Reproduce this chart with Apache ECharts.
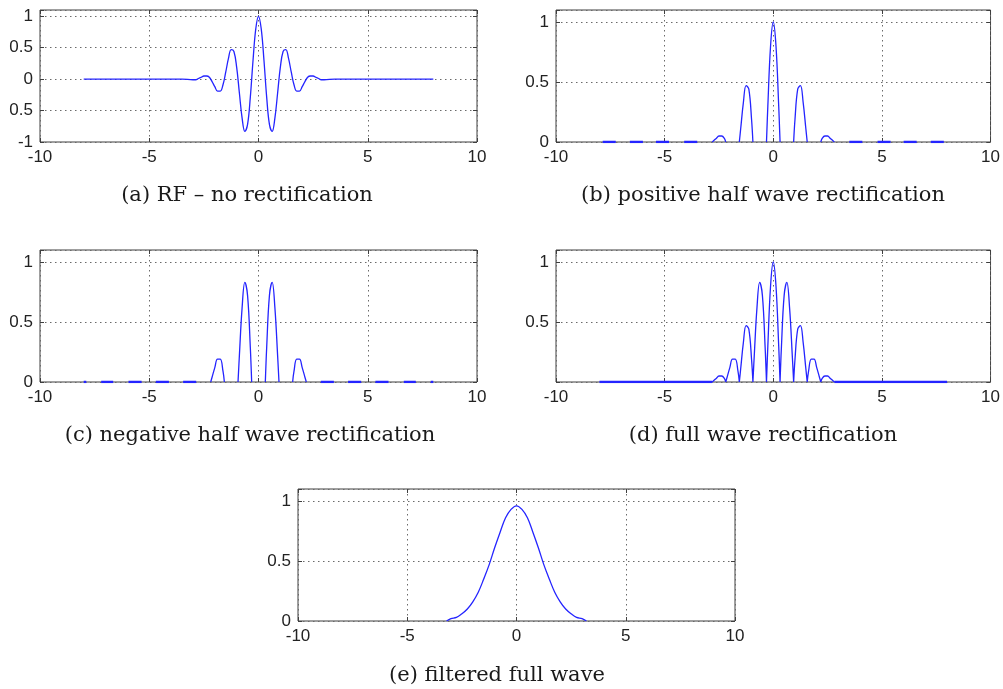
<!DOCTYPE html>
<html>
<head>
<meta charset="utf-8">
<script src="https://cdn.jsdelivr.net/npm/echarts@6/dist/echarts.min.js"></script>
<style>
  html, body { margin: 0; padding: 0; background: #fff; }
  #chart { width: 1003px; height: 689px; }
</style>
</head>
<body>
<div id="chart"></div>
<script>
var GAP = '-'; // breaks a line between separate lobes

// tick values and the labels exactly as they are printed in the figure
var yTicksRF = [-1, -0.5, 0, 0.5, 1];
var yLabelsRF = ['-1', '0.5', '0', '0.5', '1'];
var yTicksPos = [0, 0.5, 1];
var yLabelsPos = ['0', '0.5', '1'];
var yLabelsFull = ['', '0.5', '1'];

var captions = [
  '(a) RF \u2013 no rectification',
  '(b) positive half wave rectification',
  '(c) negative half wave rectification',
  '(d) full wave rectification',
  '(e) filtered full wave'
];

// (a) RF pulse
var rfData = [
  [-8, 0], [-3.5, 0], [-3, -0.01], [-2.875, -0.01], [-2.75, 0.01], [-2.625, 0.03], [-2.5, 0.05],
  [-2.375, 0.05], [-2.25, 0.03], [-2.125, -0.04], [-2, -0.12], [-1.875, -0.19], [-1.75, -0.19],
  [-1.625, -0.09], [-1.5, 0.11], [-1.375, 0.33], [-1.25, 0.47], [-1.125, 0.44], [-1, 0.19],
  [-0.875, -0.22], [-0.75, -0.62], [-0.625, -0.83], [-0.5, -0.72], [-0.375, -0.29], [-0.25, 0.3],
  [-0.125, 0.8], [0, 1], [0.125, 0.8], [0.25, 0.3], [0.375, -0.29], [0.5, -0.72], [0.625, -0.83],
  [0.75, -0.62], [0.875, -0.22], [1, 0.19], [1.125, 0.44], [1.25, 0.47], [1.375, 0.33], [1.5, 0.11],
  [1.625, -0.09], [1.75, -0.19], [1.875, -0.19], [2, -0.12], [2.125, -0.04], [2.25, 0.03],
  [2.375, 0.05], [2.5, 0.05], [2.625, 0.03], [2.75, 0.01], [2.875, -0.01], [3, -0.01], [3.5, 0], [8, 0]
];

// (b) positive half wave: lobes, then the tiny tail lobes lying on the axis
var posData = [
  [-2.8125, 0], [-2.75, 0.01], [-2.625, 0.03], [-2.5, 0.05], [-2.375, 0.05], [-2.25, 0.03], [-2.1875, 0], [-2, GAP],
  [-1.5625, 0], [-1.5, 0.11], [-1.375, 0.33], [-1.25, 0.47], [-1.125, 0.44], [-1, 0.19], [-0.9375, 0], [-0.6, GAP],
  [-0.3125, 0], [-0.25, 0.3], [-0.125, 0.8], [0, 1], [0.125, 0.8], [0.25, 0.3], [0.3125, 0], [0.6, GAP],
  [0.9375, 0], [1, 0.19], [1.125, 0.44], [1.25, 0.47], [1.375, 0.33], [1.5, 0.11], [1.5625, 0], [2, GAP],
  [2.1875, 0], [2.25, 0.03], [2.375, 0.05], [2.5, 0.05], [2.625, 0.03], [2.75, 0.01], [2.8125, 0]
];
var posTails = [
  [-7.85, 0], [-7.25, 0], [-7, GAP], [-6.6, 0], [-6, 0], [-5.6, GAP], [-5.4, 0], [-4.8, 0], [-4.4, GAP],
  [-4.1, 0], [-3.5, 0], [0, GAP],
  [3.5, 0], [4.1, 0], [4.4, GAP], [4.8, 0], [5.4, 0], [5.6, GAP], [6, 0], [6.6, 0], [7, GAP], [7.25, 0], [7.85, 0]
];

// (c) negative half wave
var negData = [
  [-2.1875, 0], [-2.125, 0.04], [-2, 0.12], [-1.875, 0.19], [-1.75, 0.19], [-1.625, 0.09], [-1.5625, 0], [-1.2, GAP],
  [-0.9375, 0], [-0.875, 0.22], [-0.75, 0.62], [-0.625, 0.83], [-0.5, 0.72], [-0.375, 0.29], [-0.3125, 0], [0, GAP],
  [0.3125, 0], [0.375, 0.29], [0.5, 0.72], [0.625, 0.83], [0.75, 0.62], [0.875, 0.22], [0.9375, 0], [1.2, GAP],
  [1.5625, 0], [1.625, 0.09], [1.75, 0.19], [1.875, 0.19], [2, 0.12], [2.125, 0.04], [2.1875, 0]
];
var negTails = [
  [-8, 0], [-7.88, 0], [-7.5, GAP], [-7.2, 0], [-6.65, 0], [-6.3, GAP], [-5.95, 0], [-5.35, 0], [-5, GAP],
  [-4.7, 0], [-4.1, 0], [-3.8, GAP], [-3.45, 0], [-2.85, 0], [0, GAP],
  [2.85, 0], [3.45, 0], [3.8, GAP], [4.1, 0], [4.7, 0], [5, GAP], [5.35, 0], [5.95, 0], [6.3, GAP],
  [6.65, 0], [7.2, 0], [7.5, GAP], [7.88, 0], [8, 0]
];

// (d) full wave
var fullData = [
  [-2.8125, 0], [-2.75, 0.01], [-2.625, 0.03], [-2.5, 0.05], [-2.375, 0.05], [-2.25, 0.03], [-2.1875, 0], [-2.19, GAP],
  [-2.1875, 0], [-2.125, 0.04], [-2, 0.12], [-1.875, 0.19], [-1.75, 0.19], [-1.625, 0.09], [-1.5625, 0], [-1.56, GAP],
  [-1.5625, 0], [-1.5, 0.11], [-1.375, 0.33], [-1.25, 0.47], [-1.125, 0.44], [-1, 0.19], [-0.9375, 0], [-0.94, GAP],
  [-0.9375, 0], [-0.875, 0.22], [-0.75, 0.62], [-0.625, 0.83], [-0.5, 0.72], [-0.375, 0.29], [-0.3125, 0], [-0.31, GAP],
  [-0.3125, 0], [-0.25, 0.3], [-0.125, 0.8], [0, 1], [0.125, 0.8], [0.25, 0.3], [0.3125, 0], [0.31, GAP],
  [0.3125, 0], [0.375, 0.29], [0.5, 0.72], [0.625, 0.83], [0.75, 0.62], [0.875, 0.22], [0.9375, 0], [0.94, GAP],
  [0.9375, 0], [1, 0.19], [1.125, 0.44], [1.25, 0.47], [1.375, 0.33], [1.5, 0.11], [1.5625, 0], [1.56, GAP],
  [1.5625, 0], [1.625, 0.09], [1.75, 0.19], [1.875, 0.19], [2, 0.12], [2.125, 0.04], [2.1875, 0], [2.19, GAP],
  [2.1875, 0], [2.25, 0.03], [2.375, 0.05], [2.5, 0.05], [2.625, 0.03], [2.75, 0.01], [2.8125, 0]
];
var fullTails = [[-8, 0], [-2.8125, 0], [0, GAP], [2.8125, 0], [8, 0]];

// (e) filtered full wave
var filtData = [
  [-3.2, 0], [-3, 0.02], [-2.75, 0.03], [-2.5, 0.06], [-2.25, 0.1], [-2, 0.16], [-1.75, 0.24], [-1.5, 0.35],
  [-1.25, 0.47], [-1, 0.61], [-0.75, 0.74], [-0.5, 0.86], [-0.25, 0.93], [0, 0.96], [0.25, 0.93], [0.5, 0.86],
  [0.75, 0.74], [1, 0.61], [1.25, 0.47], [1.5, 0.35], [1.75, 0.24], [2, 0.16], [2.25, 0.1], [2.5, 0.06],
  [2.75, 0.03], [3, 0.02], [3.2, 0]
];

var panels = [
  { left: 40,  top: 10,  data: rfData,   tails: null,      yMin: -1, ticks: yTicksRF,  labels: yLabelsRF,   cx: 247, cy: 196 },
  { left: 556, top: 10,  data: posData,  tails: posTails,  yMin: 0,  ticks: yTicksPos, labels: yLabelsPos,  cx: 763, cy: 196 },
  { left: 40,  top: 250, data: negData,  tails: negTails,  yMin: 0,  ticks: yTicksPos, labels: yLabelsPos,  cx: 250, cy: 436 },
  { left: 556, top: 250, data: fullData, tails: fullTails, yMin: 0,  ticks: yTicksPos, labels: yLabelsFull, cx: 763, cy: 436 },
  { left: 298, top: 489, data: filtData, tails: null,      yMin: 0,  ticks: yTicksPos, labels: yLabelsPos,  cx: 497, cy: 676 }
];

var boxColor = '#3f3f3f';
var lineBlue = '#2424ff';
var gridDots = { color: '#6a6a6a', width: 1, type: [1.5, 3.5] };
var tickFont = { color: '#222', fontSize: 17, fontFamily: 'Liberation Sans, Arial, sans-serif' };

var grids = [], xAxes = [], yAxes = [], series = [], texts = [];
panels.forEach(function (p, i) {
  grids.push({ left: p.left, top: p.top, width: 437, height: 132, show: true, borderColor: boxColor, borderWidth: 1 });
  var tick = { inside: true, length: 4, lineStyle: { color: boxColor } };
  var noLine = { show: false, onZero: false };
  xAxes.push({
    gridIndex: i, type: 'value', min: -10, max: 10, interval: 5,
    axisLine: noLine, axisTick: tick,
    axisLabel: Object.assign({ margin: 7 }, tickFont),
    splitLine: { show: true, lineStyle: gridDots }
  });
  xAxes.push({
    gridIndex: i, type: 'value', position: 'top', min: -10, max: 10, interval: 5,
    axisLine: noLine, axisTick: tick, axisLabel: { show: false }, splitLine: { show: false }
  });
  var labelOf = function (v) {
    for (var k = 0; k < p.ticks.length; k++) {
      if (Math.abs(p.ticks[k] - v) < 1e-6) return p.labels[k];
    }
    return '';
  };
  yAxes.push({
    gridIndex: i, type: 'value', min: p.yMin, max: 1.1, interval: 0.5,
    axisLine: noLine, axisTick: tick,
    axisLabel: Object.assign({ margin: 7, formatter: labelOf }, tickFont),
    splitLine: { show: true, lineStyle: gridDots }
  });
  yAxes.push({
    gridIndex: i, type: 'value', position: 'right', min: p.yMin, max: 1.1, interval: 0.5,
    axisLine: noLine, axisTick: tick, axisLabel: { show: false }, splitLine: { show: false }
  });
  series.push({
    type: 'line', xAxisIndex: i * 2, yAxisIndex: i * 2, data: p.data,
    smooth: 0.4, showSymbol: false, connectNulls: false,
    lineStyle: { color: lineBlue, width: 1.3 }, z: 5
  });
  if (p.tails) {
    series.push({
      type: 'line', xAxisIndex: i * 2, yAxisIndex: i * 2, data: p.tails,
      showSymbol: false, connectNulls: false,
      lineStyle: { color: lineBlue, width: 2.6 }, z: 5
    });
  }
  texts.push({
    type: 'text', x: p.cx, y: p.cy,
    style: { text: captions[i], fill: '#1a1a1a', font: '21px "DejaVu Serif", "Liberation Serif", serif',
             textAlign: 'center', textVerticalAlign: 'middle' }
  });
});

var chart = echarts.init(document.getElementById('chart'));
chart.setOption({
  animation: false,
  grid: grids,
  xAxis: xAxes,
  yAxis: yAxes,
  series: series,
  graphic: texts
});
</script>
</body>
</html>
